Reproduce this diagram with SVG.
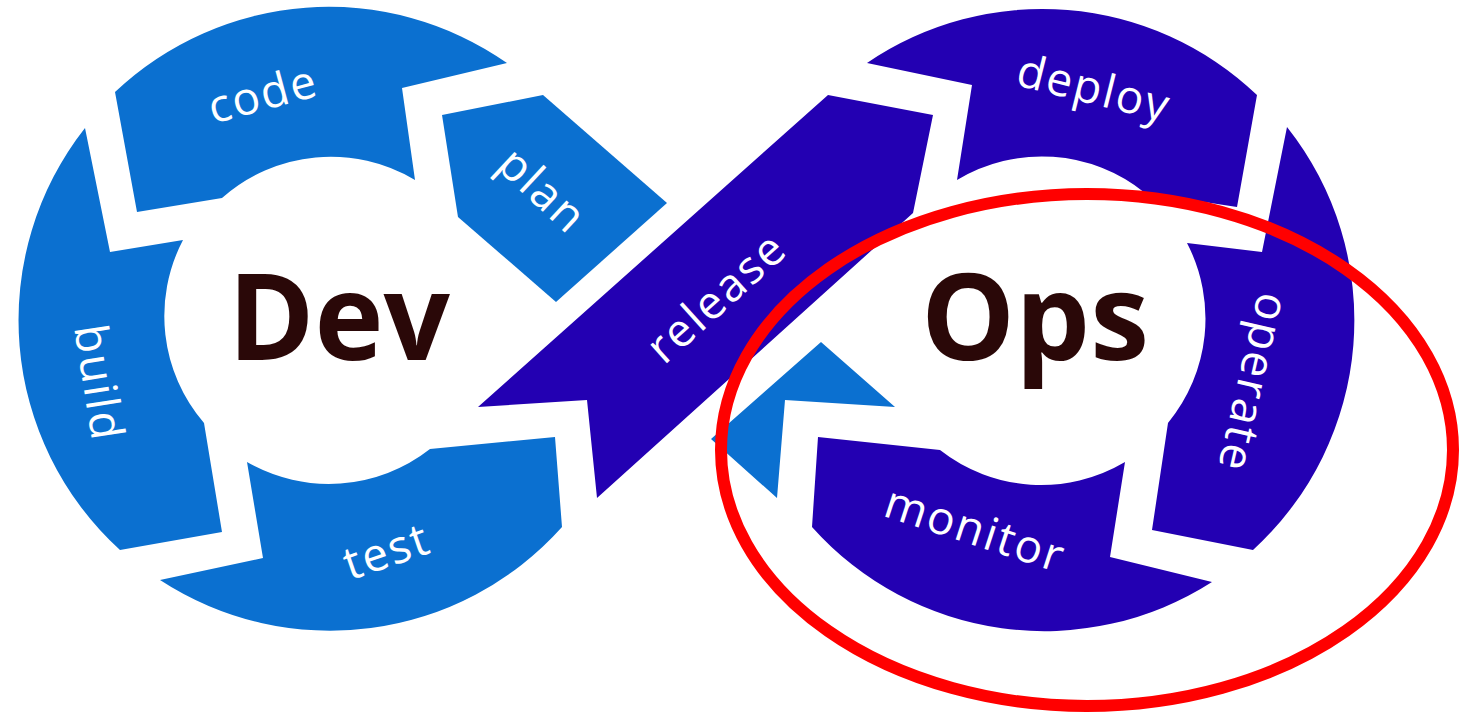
<svg xmlns="http://www.w3.org/2000/svg" width="1475" height="715" viewBox="0 0 1475 715">
  <style>
    .dev { fill: #0b70d0; }
    .ops { fill: #2300b2; }
    .lbl { fill: #ffffff; font-family: "Open Sans", "Liberation Sans", sans-serif; font-size: 46px; letter-spacing: 2px; text-anchor: middle; }
    .big { fill: #2a0808; font-family: "Open Sans", "Liberation Sans", sans-serif; font-size: 120px; font-weight: 700; }
    .hl { fill: none; stroke: #ff0000; stroke-width: 12; }
  </style>
  <rect width="1475" height="715" fill="#ffffff"/>

  <g id="node-code">
    <path class="dev" d="M115,92 A311,311 0 0 1 507,63 L402,88 L415,180 A164,164 0 0 0 222,198 L137,212 Z"/>
    <text class="lbl" transform="translate(263,95) rotate(-15)" y="15">code</text>
  </g>
  <g id="node-build">
    <path class="dev" d="M85,128 L110,252 L183,240 A164,164 0 0 0 204,423 L222,532 L120,550 A311,311 0 0 1 85,128 Z"/>
    <text class="lbl" transform="translate(98,383) rotate(81)" y="15">build</text>
  </g>
  <g id="node-test">
    <path class="dev" d="M247,462 A164,164 0 0 0 430,449 L555,437 L562,527 A311,311 0 0 1 160,580 L263,558 Z"/>
    <text class="lbl" transform="translate(387,552) rotate(-19)" y="15">test</text>
  </g>
  <g id="node-plan">
    <path class="dev" d="M442,115 L543,95 L667,203 L556,302 L458,217 Z"/>
    <path class="dev" d="M821,342 L895,407 L785,400 L777,498 L711,439 Z"/>
    <text class="lbl" transform="translate(540,193) rotate(43)" y="12">plan</text>
  </g>
  <g id="node-release">
    <path class="ops" d="M478,407 L828,95 L933,115 L913,213 L597,498 L587,400 Z"/>
    <text class="lbl" transform="translate(717,298) rotate(-42)" y="15">release</text>
  </g>
  <g id="node-deploy">
    <path class="ops" d="M867,63 A311,311 0 0 1 1257,95 L1237,207 L1145,193 A164,164 0 0 0 957,180 L972,85 Z"/>
    <text class="lbl" transform="translate(1093,92) rotate(14)" y="12">deploy</text>
  </g>
  <g id="node-operate">
    <path class="ops" d="M1287,127 A311,311 0 0 1 1253,550 L1152,530 L1168,423 A164,164 0 0 0 1187,243 L1262,252 Z"/>
    <text class="lbl" transform="translate(1250,382) rotate(103)" y="12">operate</text>
  </g>
  <g id="node-monitor">
    <path class="ops" d="M1212,582 A311,311 0 0 1 812,527 L818,437 L940,450 A164,164 0 0 0 1125,462 L1110,557 Z"/>
    <text class="lbl" transform="translate(975,530) rotate(18)" y="15">monitor</text>
  </g>

  <g id="label-dev">
    <text class="big" x="228" y="360" textLength="222" lengthAdjust="spacingAndGlyphs">Dev</text>
  </g>
  <g id="label-ops">
    <text class="big" x="921" y="360" textLength="228" lengthAdjust="spacingAndGlyphs">Ops</text>
  </g>

  <g id="highlight">
    <ellipse class="hl" cx="1087" cy="450" rx="366" ry="256"/>
  </g>
</svg>
